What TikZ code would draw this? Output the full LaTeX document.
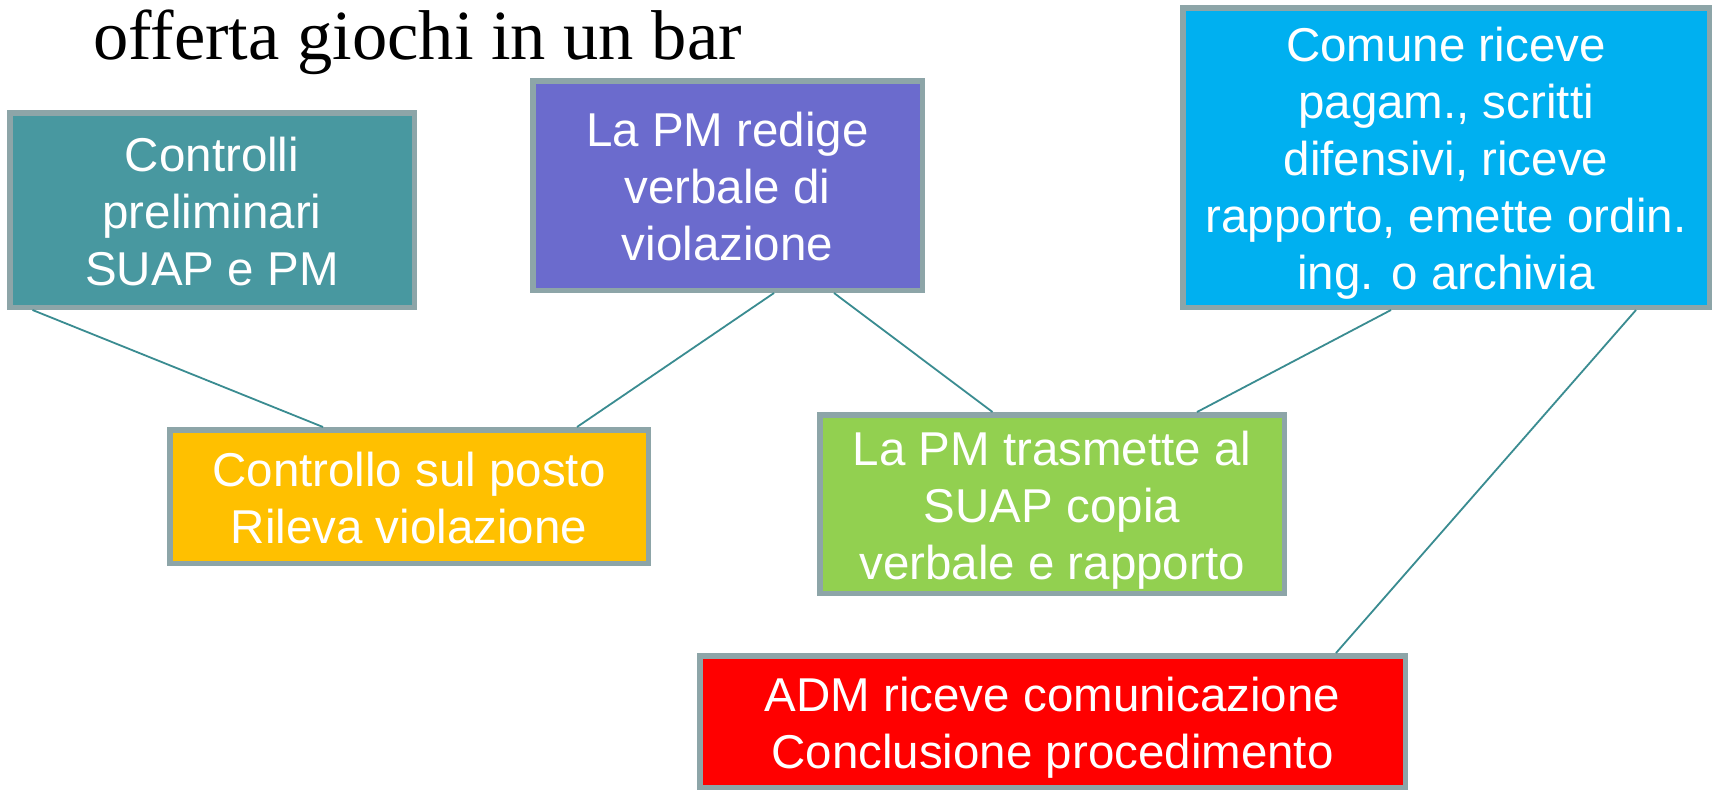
\documentclass[tikz,border=0pt]{standalone}
\usepackage{fontspec}
\setmainfont{Liberation Serif}
\newfontfamily\boxfont{Liberation Sans}
\definecolor{bordergray}{HTML}{8DA5A8}
\definecolor{linkteal}{HTML}{3A8C91}
\definecolor{cteal}{HTML}{4898A0}
\definecolor{cpurple}{HTML}{6B6BCD}
\definecolor{cblue}{HTML}{00B0F0}
\definecolor{cyellow}{HTML}{FFC000}
\definecolor{cgreen}{HTML}{92D050}
\definecolor{cred}{HTML}{FF0000}
\newcommand{\fststrut}{\rule{0pt}{46pt}}
\newcommand{\lststrut}{\rule[-10pt]{0pt}{10pt}}
\tikzset{
  stepbox/.style={draw=bordergray, line width=5.5pt, rectangle, inner sep=0pt,
    outer sep=2.75pt, align=center, text=white,
    font=\boxfont\fontsize{47.5}{57}\selectfont},
  link/.style={draw=linkteal, line width=1.8pt}
}
\begin{document}
\begin{tikzpicture}[x=1pt,y=-1pt]
\useasboundingbox (0,0) rectangle (1713,790);
\fill[white] (0,0) rectangle (1713,790);
\node[anchor=base west, inner sep=0pt, font=\fontsize{70.5}{80}\selectfont] (title) at (93,59) {offerta giochi in un bar};
\node[stepbox, fill=cteal, minimum width=404.5pt, minimum height=194.5pt] (teal) at (212,210)
  {\fststrut Controlli\\preliminari\\SUAP e PM\lststrut};
\node[stepbox, fill=cpurple, minimum width=389.5pt, minimum height=209.5pt] (purple) at (727.5,185.5)
  {\fststrut La PM redige\\verbale di\\violazione\lststrut};
\node[stepbox, fill=cblue, minimum width=526.5pt, minimum height=299.5pt] (blue) at (1446,157.5)
  {\fststrut Comune riceve\\pagam., scritti\\difensivi, riceve\\rapporto, emette ordin.\\ing. o archivia\lststrut};
\node[stepbox, fill=cyellow, minimum width=478.5pt, minimum height=133.5pt] (yellow) at (409,496.5)
  {\fststrut Controllo sul posto\\Rileva violazione\lststrut};
\node[stepbox, fill=cgreen, minimum width=464.5pt, minimum height=178.5pt] (green) at (1052,504)
  {\fststrut La PM trasmette al\\SUAP copia\\verbale e rapporto\lststrut};
\node[stepbox, fill=cred, minimum width=705.5pt, minimum height=131.5pt] (red) at (1052.5,721.5)
  {\fststrut ADM riceve comunicazione\\Conclusione procedimento\lststrut};
\draw[link] ([xshift=25.5pt]teal.south west) -- ([xshift=156pt]yellow.north west);
\draw[link] ([xshift=244pt]purple.south west) -- ([xshift=410pt]yellow.north west);
\draw[link] ([xshift=304pt]purple.south west) -- ([xshift=175.5pt]green.north west);
\draw[link] ([xshift=211pt]blue.south west) -- ([xshift=380pt]green.north west);
\draw[link] ([xshift=456pt]blue.south west) -- ([xshift=639pt]red.north west);
\end{tikzpicture}
\end{document}
